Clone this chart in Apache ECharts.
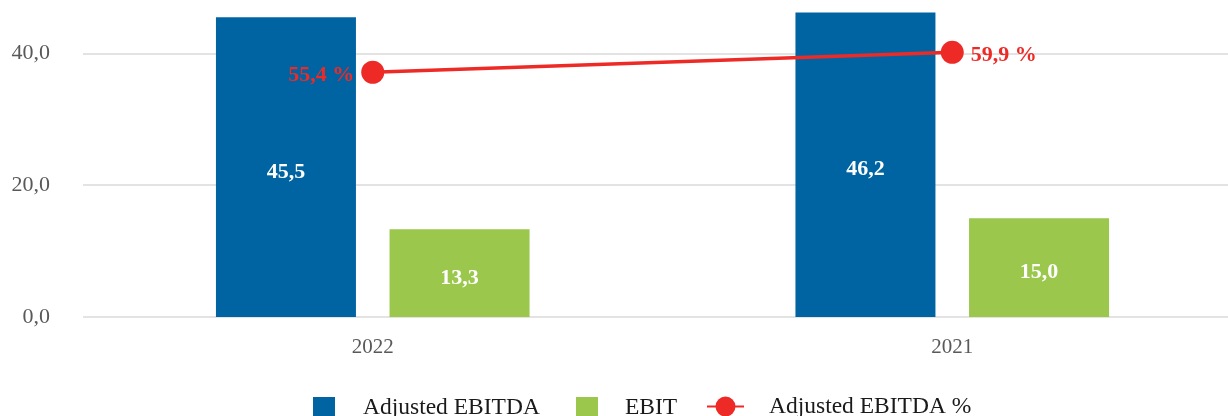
<!DOCTYPE html>
<html>
<head>
<meta charset="utf-8">
<script src="https://cdn.jsdelivr.net/npm/echarts@6/dist/echarts.min.js"></script>
<style>
  html, body { margin: 0; padding: 0; background: #ffffff; }
  #chart { width: 1228px; height: 416px; }
</style>
</head>
<body>
<div id="chart"></div>
<script>
// Years shown on the category axis
const years = ['2022', '2021'];
// Values in millions
const adjustedEbitda = [45.5, 46.2];
const ebit = [13.3, 15.0];
// Adjusted EBITDA margin, percent
const ebitdaMargin = [55.4, 59.9];
// Left axis ticks (the top one sits above the visible area)
const yTicks = [0, 20, 40, 60];

const FONT = 'Liberation Serif';
const BLUE = '#0064A3';
const GREEN = '#9AC74C';
const RED = '#EE2A27';

const comma = v => v.toFixed(1).replace('.', ',');

const chart = echarts.init(document.getElementById('chart'), null, { renderer: 'canvas' });

const legendBase = {
  orient: 'horizontal',
  itemGap: 0,
  padding: 0,
  selectedMode: false,
  textStyle: { fontFamily: FONT, fontSize: 23.5, color: '#1a1a1a' }
};

chart.setOption({
  animation: false,
  backgroundColor: '#ffffff',
  grid: {
    left: 83, right: -14, top: -78.4, bottom: 99,
    containLabel: false, outerBoundsMode: 'none'
  },
  legend: [
    Object.assign({}, legendBase, {
      left: 313, top: 396, itemWidth: 22, itemHeight: 22,
      data: [{ name: 'Adjusted EBITDA', icon: 'rect' }],
      textStyle: Object.assign({}, legendBase.textStyle, { padding: [0, 0, 0, 23] })
    }),
    Object.assign({}, legendBase, {
      left: 576, top: 396, itemWidth: 22, itemHeight: 22,
      data: [{ name: 'EBIT', icon: 'rect' }],
      textStyle: Object.assign({}, legendBase.textStyle, { padding: [0, 0, 0, 22] })
    }),
    Object.assign({}, legendBase, {
      left: 706, top: 394.5, itemWidth: 37, itemHeight: 25,
      data: [{ name: 'Adjusted EBITDA %' }],
      textStyle: Object.assign({}, legendBase.textStyle, { padding: [0, 0, 0, 20] })
    })
  ],
  xAxis: {
    type: 'category',
    data: years,
    axisLine: { show: false },
    axisTick: { show: false },
    axisLabel: { fontFamily: FONT, fontSize: 21, color: '#595959', margin: 20 }
  },
  yAxis: [
    {
      type: 'value',
      min: yTicks[0],
      max: yTicks[yTicks.length - 1],
      interval: 20,
      axisLine: { show: false },
      axisTick: { show: false },
      axisLabel: {
        fontFamily: FONT, fontSize: 22, color: '#595959', margin: 33,
        formatter: v => comma(v)
      },
      splitLine: { lineStyle: { color: '#e3e3e3', width: 2 } }
    },
    {
      type: 'value',
      min: 0,
      max: 89.5,
      show: false,
      splitLine: { show: false }
    }
  ],
  series: [
    {
      name: 'Adjusted EBITDA',
      type: 'bar',
      data: adjustedEbitda,
      barWidth: 140,
      barGap: '24%',
      itemStyle: { color: BLUE },
      label: {
        show: true, position: 'inside', offset: [0, 5], color: '#ffffff',
        fontFamily: FONT, fontSize: 22, fontWeight: 'bold',
        formatter: p => comma(p.value)
      }
    },
    {
      name: 'EBIT',
      type: 'bar',
      data: ebit,
      barWidth: 140,
      itemStyle: { color: GREEN },
      label: {
        show: true, position: 'inside', offset: [0, 5], color: '#ffffff',
        fontFamily: FONT, fontSize: 22, fontWeight: 'bold',
        formatter: p => comma(p.value)
      }
    },
    {
      name: 'Adjusted EBITDA %',
      type: 'line',
      yAxisIndex: 1,
      z: 5,
      symbol: 'circle',
      symbolSize: 23,
      lineStyle: { color: RED, width: 3.5 },
      itemStyle: { color: RED },
      data: ebitdaMargin.map((v, i) => ({
        value: v,
        label: { position: i === 0 ? 'left' : 'right' }
      })),
      label: {
        show: true, distance: 7, offset: [0, 3], color: RED,
        fontFamily: FONT, fontSize: 22, fontWeight: 'bold',
        formatter: p => comma(p.value) + ' %'
      }
    }
  ]
});
</script>
</body>
</html>
